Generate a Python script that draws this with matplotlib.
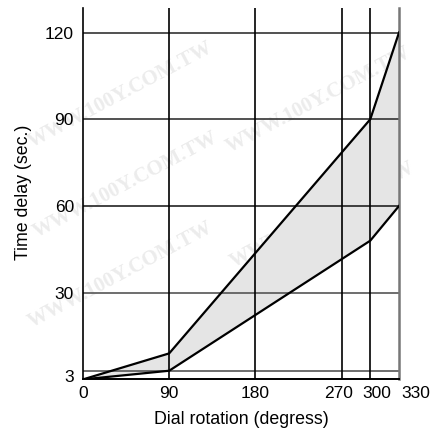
import matplotlib
matplotlib.use("Agg")
import matplotlib.pyplot as plt
from matplotlib.transforms import ScaledTranslation

plt.rcParams['font.family'] = ['Liberation Sans', 'DejaVu Sans']

# Data
dial_deg = [0, 90, 300, 330]
upper_delay = [0, 9, 90, 120]
lower_delay = [0, 3, 48, 60]
x_ticks = [0, 90, 180, 270, 300, 330]
y_ticks = [3, 30, 60, 90, 120]
x_label = "Dial rotation (degress)"
y_label = "Time delay (sec.)"
watermark = "WWW.100Y.COM.TW"

W, H = 440, 434
fig = plt.figure(figsize=(W / 100, H / 100), dpi=100)
left, right = 83 / W, 399 / W
bottom, top = 1 - 379.4 / H, 1 - 8 / H
ax = fig.add_axes([left, bottom, right - left, top - bottom])
ax.set_zorder(2)
ax.patch.set_alpha(0)

ax.set_xlim(0, 330)
ax.set_ylim(0, 128.5)

# faint watermark behind the chart
wm_centers = [(120, 95), (125, 185), (120, 275), (318, 100), (322, 215)]
for (px, py) in wm_centers:
    fig.text(px / W, 1 - py / H, watermark, rotation=28, fontsize=15, color='#ececec',
             family=['Liberation Serif', 'DejaVu Serif'], fontweight='bold',
             ha='center', va='center', rotation_mode='anchor', zorder=0)

# fill between curves
xs = dial_deg + dial_deg[::-1]
ys = upper_delay + lower_delay[::-1]
ax.fill(xs, ys, color='#e5e5e5', zorder=1, lw=0)

# grid lines
hcol = {3: '#555555', 30: '#555555', 60: '#222222', 90: '#333333', 120: '#333333'}
for yv in y_ticks:
    ax.axhline(yv, color=hcol[yv], lw=1.2, zorder=2)
for xv in x_ticks[1:-1]:
    ax.axvline(xv, color='black', lw=1.2, zorder=2)

ax.plot(dial_deg, upper_delay, color='black', lw=1.6, zorder=3)
ax.plot(dial_deg, lower_delay, color='black', lw=1.6, zorder=3)

ax.spines['top'].set_visible(False)
ax.spines['left'].set_color('black')
ax.spines['left'].set_linewidth(1.2)
ax.spines['bottom'].set_color('black')
ax.spines['bottom'].set_linewidth(1.4)
ax.spines['right'].set_color('#777777')
ax.spines['right'].set_linewidth(1.8)

ax.set_xticks(x_ticks)
ax.set_xticklabels([str(v) for v in x_ticks])
ax.set_yticks(y_ticks)
ax.set_yticklabels([str(v) for v in y_ticks])
ax.tick_params(axis='both', length=0, labelsize=12.5, colors='black')
ax.tick_params(axis='y', pad=6.5)
ax.tick_params(axis='x', pad=5)

# nudge crowded tick labels apart (pixel offsets)
x_shift_px = {270: -2.5, 300: 6.5, 330: 17}
for lbl, v in zip(ax.get_xticklabels(), x_ticks):
    dx = x_shift_px.get(v, 0)
    if dx:
        lbl.set_transform(lbl.get_transform() + ScaledTranslation(dx / 100, 0, fig.dpi_scale_trans))
y_shift_px = {3: -5}
for lbl, v in zip(ax.get_yticklabels(), y_ticks):
    dy = y_shift_px.get(v, 0)
    if dy:
        lbl.set_transform(lbl.get_transform() + ScaledTranslation(0, dy / 100, fig.dpi_scale_trans))

fig.text(241 / W, 1 - 424 / H, x_label, ha='center', va='baseline', fontsize=12.8)
fig.text(24 / W, 1 - 192 / H, y_label, ha='center', va='center', rotation=90, fontsize=12.8)

fig.savefig('out.png', dpi=100)
